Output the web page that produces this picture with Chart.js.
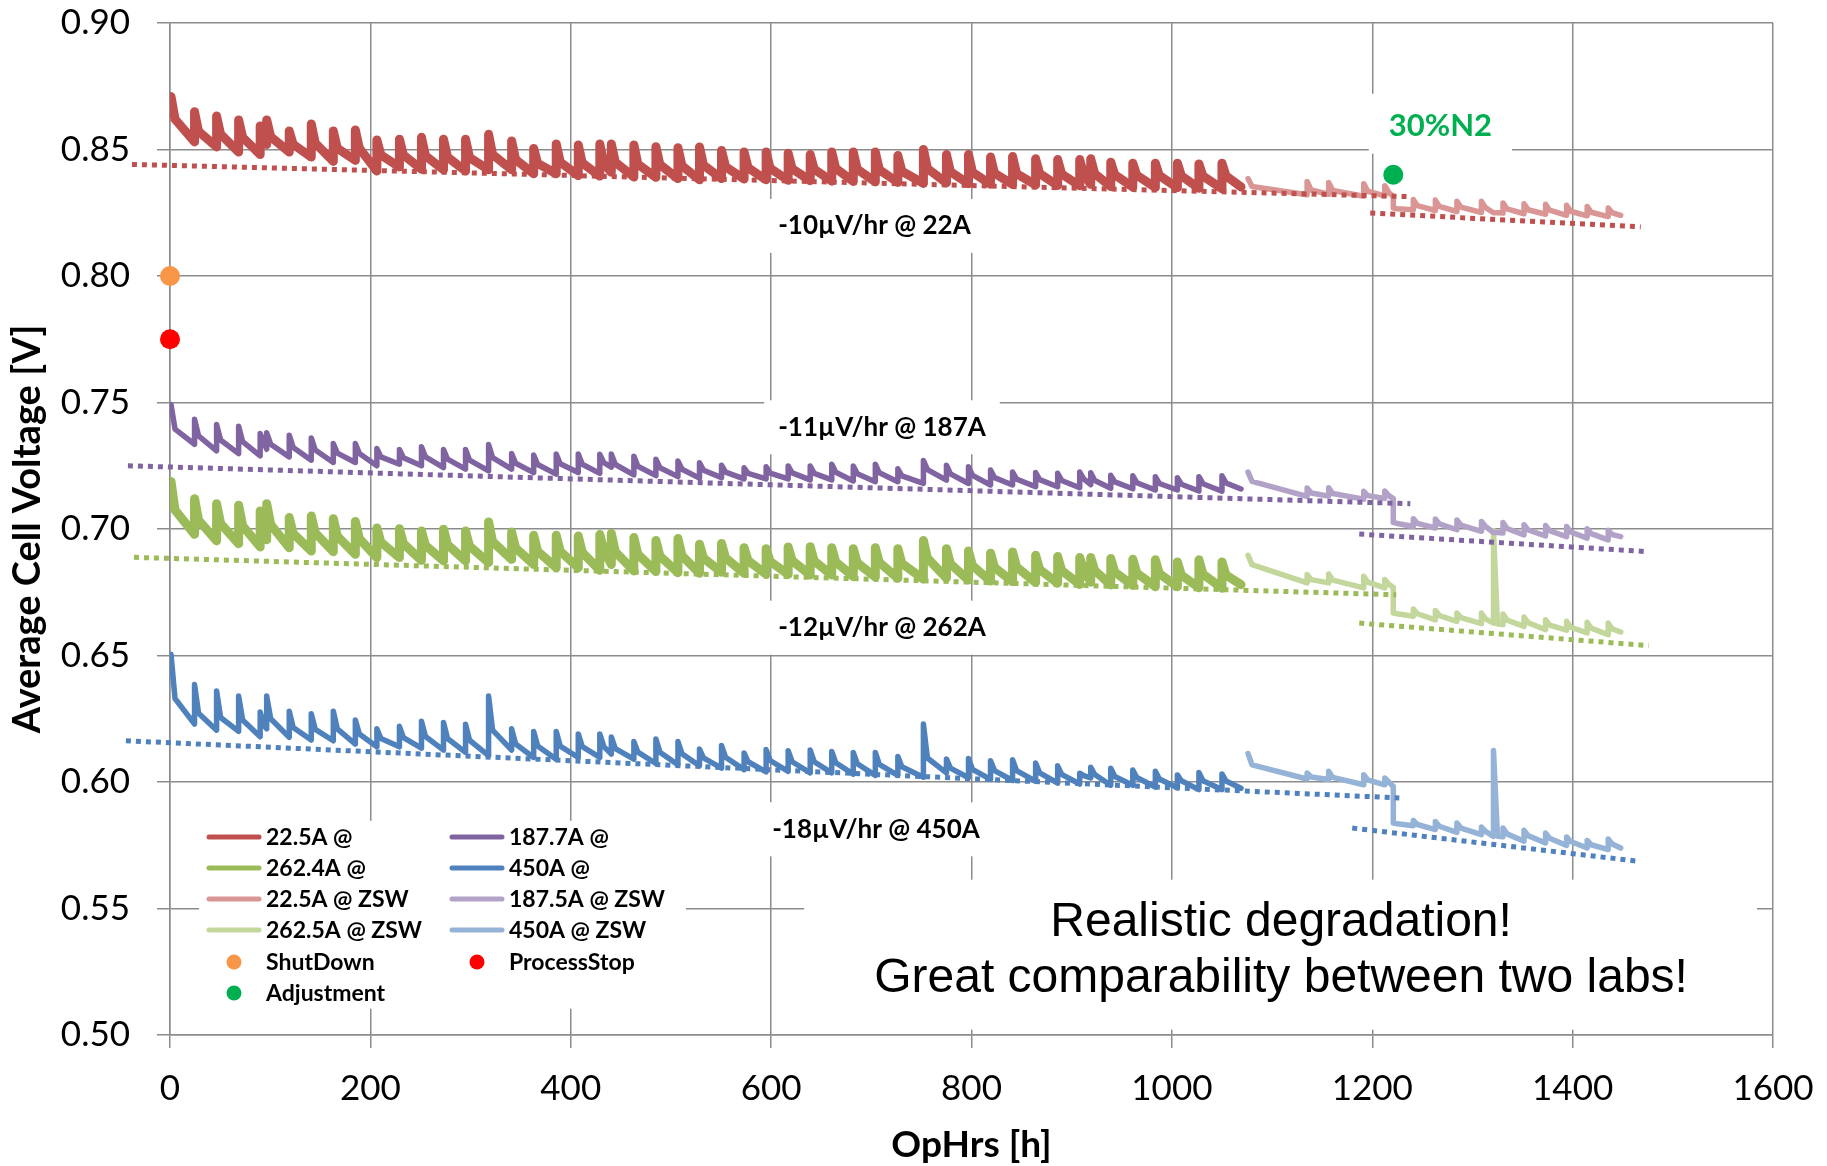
<!DOCTYPE html>
<html>
<head>
<meta charset="utf-8">
<script src="https://cdn.jsdelivr.net/npm/chart.js@4.4.1/dist/chart.umd.min.js"></script>
<style>
  html, body { margin: 0; padding: 0; background: #fff; }
  #wrap { width: 1827px; height: 1166px; }
</style>
</head>
<body>
<div id="wrap"><canvas id="deg" width="1827" height="1166"></canvas></div>
<script>
// spike times of the first lab (h), shared by all four currents
const lab1Hours = [1, 24.5, 46.5, 68.5, 90, 96.5, 119, 141, 163, 185,
  206.5, 229, 251, 273, 295, 318, 341, 363, 385.5, 407.5,
  429, 440.5, 463, 485, 507, 528.5, 550.5, 573, 595, 617,
  639, 660.5, 682, 704, 726.5, 752, 775, 797, 819, 841,
  864, 886, 908, 919, 939, 961, 983.5, 1005.5, 1027, 1050];
const lab1End = 1069;

// ZSW lab: spike / step times (h)
const lab2Hours = [1076, 1135, 1156.5, 1191.5, 1212.5, 1221, 1241, 1263, 1284.5, 1309,
  1321, 1330.5, 1351.5, 1373, 1394, 1414.5, 1435.5];
const lab2End = 1448;

// hours between a spike and the end of its quick drop
const kneeLag = 4;

// 22.5A
const s22Peak = [0.8709, 0.8649, 0.8632, 0.8617, 0.8593, 0.8617, 0.8573, 0.8601, 0.8573, 0.8577,
  0.8538, 0.8541, 0.8548, 0.8541, 0.8541, 0.8560, 0.8534, 0.8504, 0.8522, 0.8518,
  0.8522, 0.8522, 0.8518, 0.8511, 0.8507, 0.8510, 0.8496, 0.8490, 0.8490, 0.8485,
  0.8480, 0.8490, 0.8490, 0.8490, 0.8476, 0.8500, 0.8480, 0.8480, 0.8470, 0.8472,
  0.8463, 0.8460, 0.8460, 0.8463, 0.8450, 0.8446, 0.8446, 0.8446, 0.8443, 0.8446];
const s22Knee = [0.8620, 0.8572, 0.8560, 0.8548, 0.8535, 0.8550, 0.8520, 0.8525, 0.8505, 0.8505,
  0.8478, 0.8478, 0.8475, 0.8470, 0.8468, 0.8480, 0.8460, 0.8445, 0.8450, 0.8447,
  0.8446, 0.8450, 0.8442, 0.8440, 0.8436, 0.8438, 0.8432, 0.8428, 0.8426, 0.8424,
  0.8422, 0.8425, 0.8422, 0.8420, 0.8414, 0.8425, 0.8412, 0.8410, 0.8406, 0.8405,
  0.8405, 0.8403, 0.8402, 0.8404, 0.8400, 0.8398, 0.8397, 0.8396, 0.8395, 0.8396];
const s22Low = [0.8530, 0.8510, 0.8490, 0.8480, 0.8520, 0.8490, 0.8470, 0.8453, 0.8457, 0.8415,
  0.8431, 0.8422, 0.8420, 0.8415, 0.8420, 0.8420, 0.8404, 0.8404, 0.8397, 0.8395,
  0.8410, 0.8391, 0.8390, 0.8385, 0.8380, 0.8385, 0.8383, 0.8380, 0.8378, 0.8377,
  0.8375, 0.8374, 0.8372, 0.8370, 0.8366, 0.8368, 0.8365, 0.8363, 0.8362, 0.8360,
  0.8358, 0.8357, 0.8362, 0.8354, 0.8352, 0.8350, 0.8349, 0.8347, 0.8345, 0.8352];

// 187.7A
const s187Peak = [0.7492, 0.7434, 0.7413, 0.7406, 0.7377, 0.7380, 0.7371, 0.7360, 0.7338, 0.7338,
  0.7318, 0.7314, 0.7325, 0.7314, 0.7314, 0.7334, 0.7298, 0.7292, 0.7296, 0.7296,
  0.7295, 0.7296, 0.7288, 0.7276, 0.7269, 0.7262, 0.7252, 0.7242, 0.7246, 0.7249,
  0.7249, 0.7256, 0.7249, 0.7256, 0.7238, 0.7271, 0.7252, 0.7246, 0.7233, 0.7225,
  0.7223, 0.7220, 0.7225, 0.7222, 0.7212, 0.7210, 0.7207, 0.7203, 0.7207, 0.7210];
const s187Knee = [0.7395, 0.7368, 0.7352, 0.7345, 0.7340, 0.7335, 0.7322, 0.7312, 0.7300, 0.7298,
  0.7285, 0.7282, 0.7285, 0.7276, 0.7272, 0.7282, 0.7260, 0.7255, 0.7258, 0.7256,
  0.7262, 0.7255, 0.7248, 0.7242, 0.7236, 0.7232, 0.7225, 0.7220, 0.7221, 0.7222,
  0.7220, 0.7224, 0.7218, 0.7222, 0.7210, 0.7235, 0.7218, 0.7212, 0.7203, 0.7197,
  0.7195, 0.7192, 0.7198, 0.7192, 0.7186, 0.7183, 0.7180, 0.7177, 0.7179, 0.7182];
const s187Low = [0.7335, 0.7309, 0.7298, 0.7289, 0.7315, 0.7285, 0.7272, 0.7263, 0.7263, 0.7250,
  0.7256, 0.7250, 0.7243, 0.7237, 0.7230, 0.7237, 0.7223, 0.7217, 0.7223, 0.7220,
  0.7245, 0.7214, 0.7211, 0.7207, 0.7201, 0.7203, 0.7198, 0.7198, 0.7198, 0.7194,
  0.7194, 0.7190, 0.7187, 0.7187, 0.7180, 0.7193, 0.7180, 0.7174, 0.7174, 0.7167,
  0.7167, 0.7163, 0.7175, 0.7161, 0.7159, 0.7154, 0.7154, 0.7150, 0.7149, 0.7158];

// 262.4A
const s262Peak = [0.7188, 0.7120, 0.7100, 0.7094, 0.7071, 0.7100, 0.7045, 0.7051, 0.7041, 0.7030,
  0.7004, 0.7001, 0.6992, 0.6999, 0.6992, 0.7028, 0.6988, 0.6975, 0.6975, 0.6972,
  0.6978, 0.6982, 0.6966, 0.6955, 0.6962, 0.6940, 0.6943, 0.6926, 0.6922, 0.6929,
  0.6930, 0.6926, 0.6922, 0.6926, 0.6922, 0.6955, 0.6922, 0.6913, 0.6904, 0.6909,
  0.6896, 0.6891, 0.6887, 0.6887, 0.6883, 0.6880, 0.6878, 0.6870, 0.6878, 0.6870];
const s262Knee = [0.7075, 0.7035, 0.7022, 0.7012, 0.7005, 0.7018, 0.6982, 0.6985, 0.6972, 0.6962,
  0.6948, 0.6942, 0.6935, 0.6938, 0.6932, 0.6950, 0.6925, 0.6912, 0.6912, 0.6908,
  0.6918, 0.6910, 0.6900, 0.6893, 0.6895, 0.6885, 0.6886, 0.6875, 0.6872, 0.6875,
  0.6874, 0.6870, 0.6866, 0.6868, 0.6864, 0.6885, 0.6862, 0.6855, 0.6848, 0.6850,
  0.6840, 0.6836, 0.6838, 0.6836, 0.6830, 0.6826, 0.6824, 0.6818, 0.6822, 0.6818];
const s262Low = [0.6979, 0.6953, 0.6942, 0.6929, 0.6958, 0.6926, 0.6913, 0.6910, 0.6900, 0.6887,
  0.6887, 0.6876, 0.6874, 0.6874, 0.6867, 0.6880, 0.6860, 0.6847, 0.6847, 0.6837,
  0.6860, 0.6834, 0.6832, 0.6827, 0.6825, 0.6829, 0.6825, 0.6821, 0.6821, 0.6818,
  0.6818, 0.6812, 0.6810, 0.6805, 0.6802, 0.6806, 0.6798, 0.6794, 0.6792, 0.6789,
  0.6786, 0.6781, 0.6790, 0.6779, 0.6777, 0.6772, 0.6772, 0.6768, 0.6766, 0.6780];

// 450A
const s450Peak = [0.6505, 0.6385, 0.6360, 0.6340, 0.6277, 0.6340, 0.6280, 0.6270, 0.6280, 0.6245,
  0.6210, 0.6220, 0.6240, 0.6235, 0.6228, 0.6340, 0.6210, 0.6200, 0.6200, 0.6190,
  0.6190, 0.6178, 0.6160, 0.6170, 0.6160, 0.6130, 0.6144, 0.6115, 0.6128, 0.6124,
  0.6126, 0.6121, 0.6117, 0.6117, 0.6101, 0.6229, 0.6091, 0.6093, 0.6084, 0.6088,
  0.6075, 0.6064, 0.6035, 0.6058, 0.6054, 0.6047, 0.6042, 0.6028, 0.6038, 0.6032];
const s450Knee = [0.6330, 0.6272, 0.6255, 0.6245, 0.6222, 0.6250, 0.6215, 0.6208, 0.6210, 0.6190,
  0.6172, 0.6175, 0.6180, 0.6172, 0.6165, 0.6205, 0.6150, 0.6142, 0.6142, 0.6140,
  0.6140, 0.6132, 0.6118, 0.6118, 0.6112, 0.6095, 0.6098, 0.6080, 0.6085, 0.6080,
  0.6080, 0.6076, 0.6072, 0.6070, 0.6060, 0.6095, 0.6055, 0.6050, 0.6045, 0.6045,
  0.6036, 0.6030, 0.6025, 0.6030, 0.6022, 0.6018, 0.6012, 0.6005, 0.6005, 0.6004];
const s450Low = [0.6229, 0.6205, 0.6200, 0.6179, 0.6210, 0.6177, 0.6166, 0.6163, 0.6150, 0.6139,
  0.6139, 0.6134, 0.6126, 0.6117, 0.6104, 0.6126, 0.6097, 0.6090, 0.6097, 0.6097,
  0.6110, 0.6090, 0.6073, 0.6068, 0.6064, 0.6055, 0.6049, 0.6040, 0.6042, 0.6036,
  0.6036, 0.6031, 0.6026, 0.6026, 0.6019, 0.6036, 0.6017, 0.6010, 0.6006, 0.6003,
  0.5996, 0.5992, 0.6016, 0.5987, 0.5987, 0.5980, 0.5977, 0.5970, 0.5970, 0.5975];

// ZSW series
const z22Peak = [0.8385, 0.8374, 0.8370, 0.8365, 0.8357, 0.8269, 0.8302, 0.8300, 0.8295, 0.8295,
  0.8250, 0.8289, 0.8286, 0.8284, 0.8280, 0.8275, 0.8269];
const z22Knee = [0.8354, 0.8340, 0.8338, 0.8335, 0.8330, 0.8266, 0.8278, 0.8275, 0.8272, 0.8270,
  0.8250, 0.8265, 0.8262, 0.8260, 0.8256, 0.8252, 0.8250];
const z22Low = [0.8321, 0.8323, 0.8315, 0.8317, 0.8315, 0.8262, 0.8259, 0.8255, 0.8251, 0.8250,
  0.8249, 0.8246, 0.8244, 0.8240, 0.8238, 0.8235, 0.8240];

const z187Peak = [0.7225, 0.7162, 0.7163, 0.7149, 0.7150, 0.7026, 0.7041, 0.7040, 0.7036, 0.7030,
  0.6986, 0.7026, 0.7017, 0.7014, 0.7010, 0.7001, 0.6995];
const z187Knee = [0.7188, 0.7142, 0.7140, 0.7132, 0.7132, 0.7022, 0.7022, 0.7020, 0.7015, 0.7010,
  0.6986, 0.7002, 0.6996, 0.6993, 0.6988, 0.6982, 0.6978];
const z187Low = [0.7129, 0.7130, 0.7118, 0.7121, 0.7120, 0.7010, 0.7004, 0.6997, 0.6991, 0.6986,
  0.6984, 0.6977, 0.6973, 0.6970, 0.6964, 0.6957, 0.6970];

const z262Peak = [0.6896, 0.6820, 0.6822, 0.6813, 0.6800, 0.6668, 0.6684, 0.6678, 0.6668, 0.6668,
  0.6994, 0.6664, 0.6652, 0.6641, 0.6635, 0.6631, 0.6628];
const z262Knee = [0.6859, 0.6800, 0.6798, 0.6790, 0.6782, 0.6665, 0.6665, 0.6658, 0.6650, 0.6645,
  0.6624, 0.6640, 0.6630, 0.6620, 0.6612, 0.6608, 0.6605];
const z262Low = [0.6787, 0.6787, 0.6767, 0.6767, 0.6769, 0.6655, 0.6641, 0.6635, 0.6626, 0.6628,
  0.6622, 0.6615, 0.6602, 0.6600, 0.6589, 0.6582, 0.6593];

const z450Peak = [0.6112, 0.6036, 0.6042, 0.6029, 0.6016, 0.5838, 0.5848, 0.5844, 0.5838, 0.5822,
  0.6125, 0.5818, 0.5809, 0.5798, 0.5783, 0.5769, 0.5775];
const z450Knee = [0.6068, 0.6020, 0.6018, 0.6008, 0.6000, 0.5835, 0.5832, 0.5825, 0.5818, 0.5805,
  0.5786, 0.5795, 0.5788, 0.5778, 0.5765, 0.5752, 0.5755];
const z450Low = [0.6012, 0.6010, 0.5989, 0.5989, 0.5982, 0.5827, 0.5812, 0.5801, 0.5792, 0.5785,
  0.5784, 0.5766, 0.5759, 0.5749, 0.5739, 0.5733, 0.5739];

// dotted degradation fits: [hours, volts] at both ends
const fit22a = [[-38, 0.8441], [1236, 0.8314]];
const fit22b = [[1198, 0.8249], [1468, 0.8194]];
const fit187a = [[-42, 0.7250], [1238, 0.7100]];
const fit187b = [[1187, 0.6980], [1473, 0.6911]];
const fit262a = [[-36, 0.6888], [1224, 0.6740]];
const fit262b = [[1187, 0.6628], [1476, 0.6539]];
const fit450a = [[-44, 0.6163], [1227, 0.5937]];
const fit450b = [[1180, 0.5818], [1467, 0.5686]];

// events
const shutDownAt = [0, 0.800];
const processStopAt = [0, 0.775];
const adjustmentAt = [1221, 0.840];

const xTicks = [0, 200, 400, 600, 800, 1000, 1200, 1400, 1600];
const yTicks = [0.50, 0.55, 0.60, 0.65, 0.70, 0.75, 0.80, 0.85, 0.90];

const slopeTexts = ['-10\u00b5V/hr @ 22A', '-11\u00b5V/hr @ 187A', '-12\u00b5V/hr @ 262A', '-18\u00b5V/hr @ 450A'];
const slopeAt = [[607, 0.8198], [607, 0.7402], [607, 0.6610], [601, 0.5813]];

const FONT = 'Lato';

function sawtooth(hours, endHour, peaks, knees, lows) {
  const pts = [];
  hours.forEach((h, i) => {
    if (i > 0) pts.push({x: h, y: lows[i - 1]});
    pts.push({x: h, y: peaks[i]});
    pts.push({x: h + kneeLag, y: knees[i]});
  });
  pts.push({x: endHour, y: lows[lows.length - 1]});
  return pts;
}

function series(label, color, width, pts) {
  return {
    label: label, data: pts, borderColor: color, backgroundColor: color,
    borderWidth: width, pointRadius: 0, tension: 0, fill: false,
    borderJoinStyle: 'round', borderCapStyle: 'round', order: 2
  };
}

function fitLine(color, ends) {
  return {
    label: '', data: ends.map(p => ({x: p[0], y: p[1]})), borderColor: color,
    borderWidth: 5, borderDash: [5, 5], borderCapStyle: 'butt', pointRadius: 0,
    tension: 0, fill: false, clip: false, order: 1
  };
}

function marker(label, color, at) {
  return {
    label: label, data: [{x: at[0], y: at[1]}], showLine: false,
    pointRadius: 10, pointHoverRadius: 10, pointBackgroundColor: color,
    pointBorderColor: color, backgroundColor: color, borderColor: color,
    pointBorderWidth: 0, clip: false, order: 0
  };
}

const datasets = [
  series('22.5A @', '#C0504D', 9, sawtooth(lab1Hours, lab1End, s22Peak, s22Knee, s22Low)),
  series('187.7A @', '#8064A2', 5.5, sawtooth(lab1Hours, lab1End, s187Peak, s187Knee, s187Low)),
  series('262.4A @', '#9BBB59', 9, sawtooth(lab1Hours, lab1End, s262Peak, s262Knee, s262Low)),
  series('450A @', '#4F81BD', 5.5, sawtooth(lab1Hours, lab1End, s450Peak, s450Knee, s450Low)),
  series('22.5A @ ZSW', '#D99694', 5.5, sawtooth(lab2Hours, lab2End, z22Peak, z22Knee, z22Low)),
  series('187.5A @ ZSW', '#B3A2C7', 5.5, sawtooth(lab2Hours, lab2End, z187Peak, z187Knee, z187Low)),
  series('262.5A @ ZSW', '#C3D69B', 5.5, sawtooth(lab2Hours, lab2End, z262Peak, z262Knee, z262Low)),
  series('450A @ ZSW', '#95B3D7', 5.5, sawtooth(lab2Hours, lab2End, z450Peak, z450Knee, z450Low)),
  marker('ShutDown', '#F79646', shutDownAt),
  marker('ProcessStop', '#FF0000', processStopAt),
  marker('Adjustment', '#00B050', adjustmentAt),
  fitLine('#C0504D', fit22a), fitLine('#C0504D', fit22b),
  fitLine('#8064A2', fit187a), fitLine('#8064A2', fit187b),
  fitLine('#9BBB59', fit262a), fitLine('#9BBB59', fit262b),
  fitLine('#4F81BD', fit450a), fitLine('#4F81BD', fit450b)
];

// legend slots, filled row by row in two columns
const legendOrder = [0, 1, 2, 3, 4, 5, 6, 7, 8, 9, 10];

const notes = {
  id: 'notes',
  beforeDatasetsDraw(chart) {
    const {ctx, scales: {x, y}} = chart;
    ctx.save();
    ctx.fillStyle = '#ffffff';
    // legend panel
    ctx.fillRect(x.getPixelForValue(29), y.getPixelForValue(0.5847),
      x.getPixelForValue(515) - x.getPixelForValue(29), y.getPixelForValue(0.5104) - y.getPixelForValue(0.5847));
    // remark panel
    ctx.fillRect(x.getPixelForValue(633), y.getPixelForValue(0.5614),
      x.getPixelForValue(1584) - x.getPixelForValue(633), y.getPixelForValue(0.5021) - y.getPixelForValue(0.5614));
    // slope labels
    ctx.font = 'bold 26px ' + FONT;
    slopeTexts.forEach((t, i) => {
      const px = x.getPixelForValue(slopeAt[i][0]);
      const py = y.getPixelForValue(slopeAt[i][1]);
      const w = ctx.measureText(t).width;
      ctx.fillStyle = '#ffffff';
      ctx.fillRect(px - 14, py - 27, w + 28, 54);
      ctx.fillStyle = '#000000';
      ctx.textAlign = 'left';
      ctx.textBaseline = 'middle';
      ctx.fillText(t, px, py);
    });
    // 30%N2 label
    ctx.font = 'bold 31px ' + FONT;
    const nx = x.getPixelForValue(1268), ny = y.getPixelForValue(0.8594);
    const nw = ctx.measureText('30%N2').width;
    ctx.fillStyle = '#ffffff';
    ctx.fillRect(nx - nw / 2 - 20, ny - 32, nw + 40, 60);
    ctx.fillStyle = '#00B050';
    ctx.textAlign = 'center';
    ctx.textBaseline = 'middle';
    ctx.fillText('30%N2', nx, ny);
    ctx.restore();
  },
  afterDatasetsDraw(chart) {
    const {ctx, scales: {x, y}} = chart;
    ctx.save();
    // remark text
    ctx.fillStyle = '#000000';
    ctx.font = '48px "Liberation Sans"';
    ctx.textAlign = 'center';
    ctx.textBaseline = 'alphabetic';
    const cx = x.getPixelForValue(1109);
    ctx.fillText('Realistic degradation!', cx, y.getPixelForValue(0.5393));
    ctx.fillText('Great comparability between two labs!', cx, y.getPixelForValue(0.5168));
    // legend
    const colX = [207, 450], textX = [266, 509];
    const rowY = [837, 868, 899, 930, 962, 993];
    ctx.font = 'bold 23px ' + FONT;
    ctx.textAlign = 'left';
    ctx.textBaseline = 'middle';
    legendOrder.forEach((di, slot) => {
      const ds = chart.data.datasets[di];
      const c = slot % 2, r = Math.floor(slot / 2);
      const ly = rowY[r];
      if (ds.showLine === false) {
        ctx.fillStyle = ds.pointBackgroundColor;
        ctx.beginPath();
        ctx.arc(colX[c] + 27, ly, 7.5, 0, Math.PI * 2);
        ctx.fill();
      } else {
        ctx.strokeStyle = ds.borderColor;
        ctx.lineWidth = 5;
        ctx.lineCap = 'round';
        ctx.beginPath();
        ctx.moveTo(colX[c] + 2, ly);
        ctx.lineTo(colX[c] + 52, ly);
        ctx.stroke();
      }
      ctx.fillStyle = '#000000';
      ctx.fillText(ds.label, textX[c], ly + 1);
    });
    ctx.restore();
  }
};

const gridColor = '#8c8c8c';

new Chart(document.getElementById('deg').getContext('2d'), {
  type: 'line',
  data: {datasets: datasets},
  options: {
    responsive: false,
    animation: false,
    devicePixelRatio: 1,
    layout: {padding: {top: 23, right: 54, left: 0, bottom: 0}},
    plugins: {legend: {display: false}, tooltip: {enabled: false}},
    scales: {
      x: {
        type: 'linear', min: 0, max: 1600,
        afterBuildTicks: s => { s.ticks = xTicks.map(v => ({value: v})); },
        afterFit: s => { s.height = 131; s.paddingLeft = 0; s.paddingRight = 0; },
        grid: {color: gridColor, lineWidth: 1.5, tickLength: 13, tickColor: gridColor},
        border: {color: gridColor, width: 1.5},
        ticks: {color: '#000', font: {family: FONT, size: 35}, padding: 20, maxRotation: 0,
          callback: v => String(v)},
        title: {display: true, text: 'OpHrs [h]', color: '#000',
          font: {family: FONT, size: 37, weight: 'bold', lineHeight: 1}, padding: {bottom: 2}}
      },
      y: {
        type: 'linear', min: 0.5, max: 0.9,
        afterBuildTicks: s => { s.ticks = yTicks.map(v => ({value: v})); },
        afterFit: s => { s.width = 170; s.paddingTop = 0; s.paddingBottom = 0; },
        grid: {color: gridColor, lineWidth: 1.5, tickLength: 13, tickColor: gridColor},
        border: {color: gridColor, width: 1.5},
        ticks: {color: '#000', font: {family: FONT, size: 35}, padding: 27,
          callback: v => v.toFixed(2)},
        title: {display: true, text: 'Average Cell Voltage [V]', color: '#000',
          font: {family: FONT, size: 38, weight: 'bold', lineHeight: 1}, padding: {top: 9}}
      }
    }
  },
  plugins: [notes]
});
</script>
</body>
</html>
